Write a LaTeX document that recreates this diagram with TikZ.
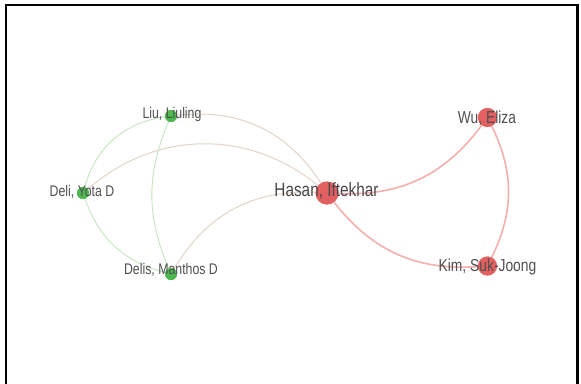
\documentclass[tikz,border=0pt]{standalone}
\usepackage{fontspec}
\setmainfont[FakeStretch=0.8]{Liberation Sans}
\definecolor{nodegreen}{HTML}{4DB84F}
\definecolor{nodered}{HTML}{E35F60}
\definecolor{edgegreen}{HTML}{C4E4BE}
\definecolor{edgetan}{HTML}{E2D4C6}
\definecolor{edgered}{HTML}{F5AFAD}
\definecolor{labelgrey}{HTML}{505050}
\begin{document}
\begin{tikzpicture}[x=1pt,y=-1pt,
  gedge/.style={draw=edgegreen,line width=0.9pt},
  tedge/.style={draw=edgetan,line width=1pt},
  redge/.style={draw=edgered,line width=1.6pt},
  gnode/.style={circle,fill=nodegreen,inner sep=0pt,minimum size=12pt},
  rnode/.style={circle,fill=nodered,fill opacity=0.95,inner sep=0pt,minimum size=19pt},
  glabel/.style={anchor=base,inner sep=0pt,text=labelgrey,font=\fontsize{15.4}{16}\selectfont},
  rlabel/.style={anchor=base,inner sep=0pt,text=labelgrey,font=\fontsize{17.3}{18}\selectfont},
  hlabel/.style={anchor=base,inner sep=0pt,text=labelgrey!90!black,font=\fontsize{19.2}{20}\selectfont}]
\useasboundingbox (0,0) rectangle (581,383);
% frame
\draw[line width=2.5pt,line cap=rect] (6.2,383) -- (6.2,5.2) -- (577.5,5.2) -- (577.5,383);
% nodes (positions)
\node[gnode] (liu) at (171,116) {};
\node[gnode] (deli) at (83,193) {};
\node[gnode] (delis) at (171,274) {};
\node[rnode,minimum size=23pt] (hasan) at (327,193) {};
\node[rnode] (wu) at (487.5,117.5) {};
\node[rnode] (kim) at (487.5,266) {};
% edges
\draw[gedge] (liu) to[bend right=33] (deli);
\draw[gedge] (deli) to[bend right=28] (delis);
\draw[gedge] (liu) to[bend right=23] (delis);
\draw[tedge] (liu) to[bend left=32] (hasan);
\draw[tedge] (deli) to[bend left=40] (hasan);
\draw[tedge] (delis) to[bend left=31] (hasan);
\draw[redge] (hasan) to[bend right=28] (wu);
\draw[redge] (hasan) to[bend right=28] (kim);
\draw[redge] (wu) to[bend left=26] (kim);
% redraw nodes on top of edges
\node[gnode] at (liu) {};
\node[gnode] at (deli) {};
\node[gnode] at (delis) {};
\node[rnode,minimum size=23pt] at (hasan) {};
\node[rnode] at (wu) {};
\node[rnode] at (kim) {};
% labels
\node[glabel] (liulbl) at (172,118.3) {Liu, Liuling};
\node[glabel] (delilbl) at (82,196) {Deli, Yota D};
\node[glabel] (delislbl) at (171,274) {Delis, Manthos D};
\node[hlabel] (hasanlbl) at (326.5,196) {Hasan, Iftekhar};
\node[rlabel] (wulbl) at (487,123.3) {Wu, Eliza};
\node[rlabel] (kimlbl) at (487.5,271.7) {Kim, Suk-Joong};
\end{tikzpicture}
\end{document}
